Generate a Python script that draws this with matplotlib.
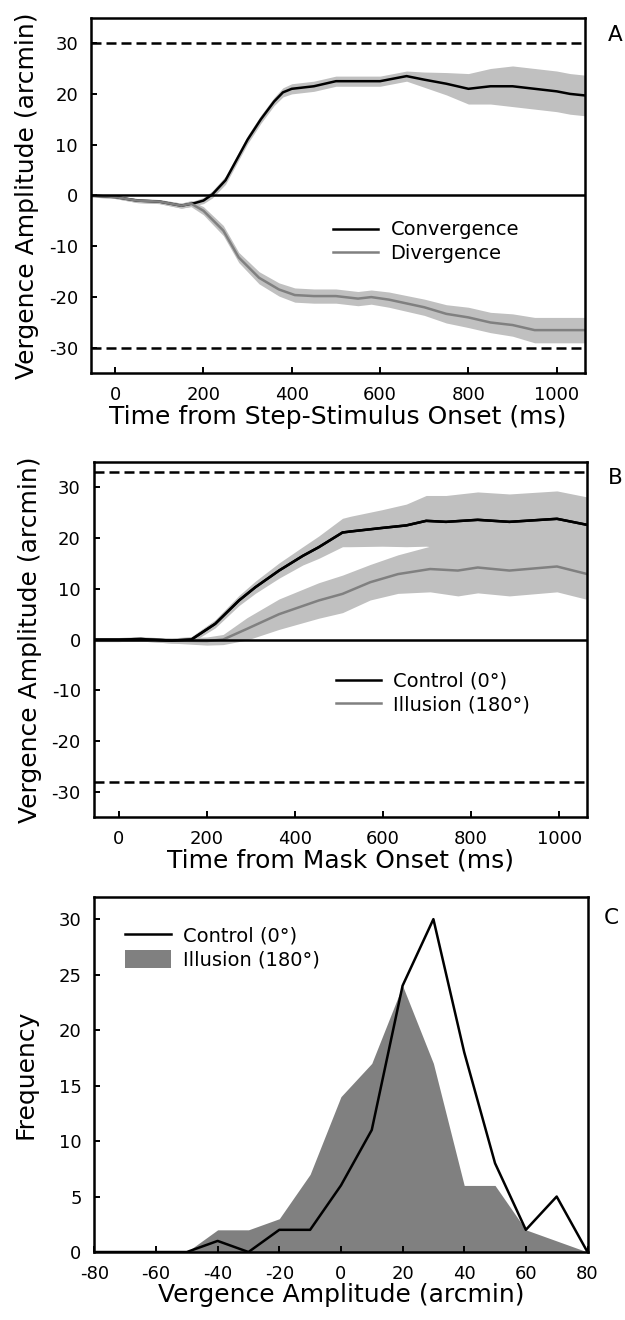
import numpy as np
import matplotlib
matplotlib.use("Agg")
import matplotlib.pyplot as plt

# Panel A: step-stimulus vergence traces (ms, arcmin)
t_conv = [-55, 0, 50, 100, 150, 180, 200, 220, 250, 275, 300, 330, 360, 380, 400,
          450, 500, 550, 600, 630, 660, 700, 750, 800, 850, 900, 950, 1000, 1030, 1063]
conv = [0, -0.3, -1, -1.2, -2, -1.5, -1, 0.2, 3, 7, 11, 15, 18.5, 20.3, 21,
        21.5, 22.5, 22.5, 22.5, 23, 23.5, 22.8, 22, 21, 21.5, 21.5, 21, 20.5, 20, 19.7]
conv_sem = [0.3, 0.3, 0.4, 0.4, 0.5, 0.5, 0.6, 0.7, 0.8, 0.8, 0.8, 0.8, 0.8, 0.9, 1.0,
            1.0, 1.0, 1.0, 1.0, 1.0, 1.0, 1.5, 2.2, 3.0, 3.5, 4.0, 4.0, 4.0, 4.0, 4.0]

t_div = [-55, 0, 50, 100, 150, 172, 200, 245, 280, 326, 371, 407, 450, 500, 550,
         580, 620, 700, 750, 800, 850, 900, 950, 1000, 1063]
div = [0, -0.3, -1, -1.2, -2, -1.6, -3, -6.9, -12.2, -16.2, -18.5, -19.6, -19.8, -19.8, -20.3,
       -20, -20.5, -22, -23.3, -24, -25, -25.5, -26.5, -26.5, -26.5]
div_sem = [0.3, 0.3, 0.4, 0.4, 0.5, 0.6, 0.8, 1.0, 1.0, 1.2, 1.3, 1.4, 1.4, 1.4, 1.4,
           1.4, 1.5, 1.6, 1.8, 2.0, 2.0, 2.2, 2.5, 2.5, 2.5]

# Panel B: mask-onset vergence traces
t_ctrl = [-57, 0, 50, 120, 165, 219, 273, 310, 364, 418, 454, 508, 526, 598, 653,
          698, 743, 815, 887, 995, 1064]
ctrl = [0, 0, 0.1, -0.2, 0, 3.1, 7.7, 10.3, 13.6, 16.5, 18.2, 21.1, 21.3, 22.0, 22.5,
        23.4, 23.2, 23.6, 23.2, 23.8, 22.6]
ctrl_sem = [0.4, 0.4, 0.4, 0.5, 0.6, 0.8, 1.0, 1.2, 1.5, 1.8, 2.2, 2.8, 3.0, 3.6, 4.2,
            5.0, 5.2, 5.5, 5.5, 5.5, 5.5]

t_ill = [-57, 0, 50, 120, 200, 237, 291, 364, 454, 508, 571, 634, 707, 770, 815,
         887, 995, 1064]
ill = [0, 0, 0.1, -0.2, -0.3, 0, 2.1, 5, 7.7, 9, 11.3, 12.9, 13.9, 13.6, 14.2,
       13.6, 14.4, 12.9]
ill_sem = [0.4, 0.4, 0.4, 0.5, 0.8, 1.0, 2.2, 3.0, 3.5, 3.7, 3.5, 3.8, 4.5, 5.0, 5.0,
           5.0, 5.0, 5.0]

# Panel C: histogram of vergence amplitudes
bins_c = [-80, -70, -60, -50, -40, -30, -20, -10, 0, 10, 20, 30, 40, 50, 60, 70, 80]
freq_ctrl = [0, 0, 0, 0, 1, 0, 2, 2, 6, 11, 24, 30, 18, 8, 2, 5, 0]
freq_ill = [0, 0, 0, 0, 2, 2, 3, 7, 14, 17, 24, 17, 6, 6, 2, 1, 0]

GRAY = "#808080"
BAND = "#c0c0c0"
DASH = (0, (4, 2))
LW = 1.8

plt.rcParams["font.family"] = "DejaVu Sans"
plt.rcParams["axes.unicode_minus"] = False

fig = plt.figure(figsize=(6.25, 13.2), dpi=100)
axA = fig.add_axes([0.1453, 0.7172, 0.790, 0.2694])
axB = fig.add_axes([0.1498, 0.381, 0.790, 0.269])
axC = fig.add_axes([0.1510, 0.0515, 0.789, 0.269])

LEG = dict(frameon=False, fontsize=14, handlelength=2.35, handletextpad=0.62,
           labelspacing=0.24, borderpad=0, borderaxespad=0)


def style(ax):
    for s in ax.spines.values():
        s.set_linewidth(LW)
    ax.tick_params(direction="in", length=4, width=1.4, labelsize=13, pad=9.2)


def trace(ax, t, y, sem, color, label):
    t = np.array(t)
    y = np.array(y)
    sem = np.array(sem)
    ax.fill_between(t, y - sem, y + sem, color=BAND, lw=0)
    ax.plot(t, y, color=color, lw=LW, label=label)


# A
trace(axA, t_conv, conv, conv_sem, "black", "Convergence")
trace(axA, t_div, div, div_sem, GRAY, "Divergence")
axA.axhline(0, color="black", lw=LW)
for v in (30, -30):
    axA.axhline(v, color="black", lw=LW, ls=DASH)
axA.set_xlim(-55, 1063)
axA.set_ylim(-35, 35)
axA.set_xticks([0, 200, 400, 600, 800, 1000])
axA.set_yticks([-30, -20, -10, 0, 10, 20, 30])
axA.set_xlabel("Time from Step-Stimulus Onset (ms)", fontsize=18, labelpad=0.5)
axA.set_ylabel("Vergence Amplitude (arcmin)", fontsize=18, labelpad=7)
axA.legend(loc="center left", bbox_to_anchor=(0.49, 0.37), **LEG)
style(axA)
fig.text(0.973, 0.9735, "A", fontsize=15.5, va="center")

# B
trace(axB, t_ctrl, ctrl, ctrl_sem, "black", "Control (0°)")
trace(axB, t_ill, ill, ill_sem, GRAY, "Illusion (180°)")
axB.plot(t_ctrl, ctrl, color="black", lw=LW)
axB.axhline(0, color="black", lw=LW)
for v in (33, -28):
    axB.axhline(v, color="black", lw=LW, ls=DASH)
axB.set_xlim(-57, 1064)
axB.set_ylim(-35, 35)
axB.set_xticks([0, 200, 400, 600, 800, 1000])
axB.set_yticks([-30, -20, -10, 0, 10, 20, 30])
axB.set_xlabel("Time from Mask Onset (ms)", fontsize=18, labelpad=0.5)
axB.set_ylabel("Vergence Amplitude (arcmin)", fontsize=18, labelpad=7)
axB.legend(loc="center left", bbox_to_anchor=(0.49, 0.35), **LEG)
style(axB)
fig.text(0.973, 0.638, "B", fontsize=15.5, va="center")

# C
axC.fill_between(bins_c, 0, freq_ill, color=GRAY, lw=0, label="Illusion (180°)")
axC.plot(bins_c, freq_ctrl, color="black", lw=LW, label="Control (0°)")
axC.set_xlim(-80, 80)
axC.set_ylim(0, 32)
axC.set_xticks([-80, -60, -40, -20, 0, 20, 40, 60, 80])
axC.set_yticks([0, 5, 10, 15, 20, 25, 30])
axC.set_xlabel("Vergence Amplitude (arcmin)", fontsize=18, labelpad=0.5)
axC.set_ylabel("Frequency", fontsize=18, labelpad=15)
h, l = axC.get_legend_handles_labels()
axC.legend(h[::-1], l[::-1], loc="center left", bbox_to_anchor=(0.063, 0.856),
           handleheight=1.0, **LEG)
style(axC)
fig.text(0.966, 0.3045, "C", fontsize=15.5, va="center")

fig.savefig("out.png", dpi=100)
